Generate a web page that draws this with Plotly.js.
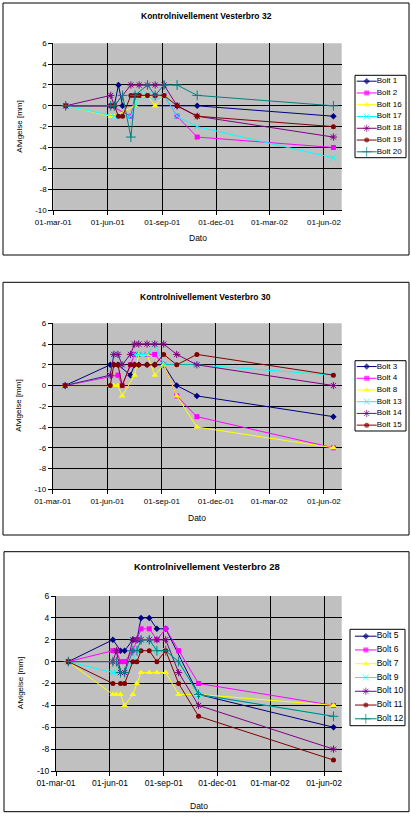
<!DOCTYPE html>
<html><head><meta charset="utf-8">
<script src="https://cdn.plot.ly/plotly-3.0.1.min.js"></script>
<style>html,body{margin:0;padding:0;background:#fff;}#c{width:411px;height:822px;}</style>
</head><body><div id="c"></div>
<script>
// ---- data ----
const dates = ['2001-03-22','2001-06-06','2001-06-12','2001-06-19','2001-06-26','2001-07-10','2001-07-17','2001-07-24','2001-08-07','2001-08-20','2001-09-04','2001-09-26','2001-10-30','2002-06-17'];
const tickDates = ['2001-03-01','2001-06-01','2001-09-01','2001-12-01','2002-03-01','2002-06-01'];
const tickLabels = ['01-mar-01','01-jun-01','01-sep-01','01-dec-01','01-mar-02','01-jun-02'];
const yTicks = [-10,-8,-6,-4,-2,0,2,4,6];
const yTickLabels = ['-10','-8','-6','-4','-2','0','2','4','6'];

const title32 = 'Kontrolnivellement Vesterbro 32';
const names32 = ['Bolt 1','Bolt 2','Bolt 16','Bolt 17','Bolt 18','Bolt 19','Bolt 20'];
const bolt1  = [0,0,0,2,0,null,null,null,null,null,null,0,0,-1];
const bolt2  = [0,0,null,null,null,-1,1,1,1,1,1,-1,-3,-4];
const bolt16 = [0,-1,-1,null,null,null,0,1,1,0,1,null,null,null];
const bolt17 = [0,null,-1,null,null,-1,0,1,1,1,1,-1,-2,-5];
const bolt18 = [0,1,0,null,null,2,null,2,2,2,2,0,-1,-3];
const bolt19 = [0,0,0,-1,-1,1,1,1,1,1,1,0,-1,-2];
const bolt20 = [0,0,0,null,1,-3,1,null,2,1,2,2,1,0];

const title30 = 'Kontrolnivellement Vesterbro 30';
const names30 = ['Bolt 3','Bolt 4','Bolt 8','Bolt 13','Bolt 14','Bolt 15'];
const bolt3  = [0,2,2,2,null,1,2,2,2,2,2,0,-1,-3];
const bolt4  = [0,null,null,1,0,2,3,3,3,3,2,-1,-3,-6];
const bolt8  = [0,0,0,0,-1,null,1,3,3,1,2,-1,-4,-6];
const bolt13 = [0,1,3,3,2,3,3,3,3,4,2,null,2,1];
const bolt14 = [0,1,3,3,2,3,4,4,4,4,4,3,2,0];
const bolt15 = [0,0,2,2,0,2,2,2,2,2,3,2,3,1];

const title28 = 'Kontrolnivellement Vesterbro 28';
const names28 = ['Bolt 5','Bolt 6','Bolt 7','Bolt 9','Bolt 10','Bolt 11','Bolt 12'];
const bolt5  = [0,2,null,1,1,2,2,4,4,3,3,null,-3,-6];
const bolt6  = [0,1,1,0,0,1,2,3,3,2,3,1,-2,-4];
const bolt7  = [0,-3,-3,-3,-4,-3,-2,-1,-1,-1,-1,-3,-3,-4];
const bolt9  = [0,-1,-1,-1,-1,0,1,2,2,1,1,0,-3,-5];
const bolt10 = [0,0,1,-1,-1,2,2,2,2,2,2,-1,-4,-8];
const bolt11 = [0,-2,null,-2,-2,0,0,1,1,0,1,-2,-5,-9];
const bolt12 = [0,0,0,-1,-1,1,1,2,2,1,1,0,-3,-5];

// ---- styles (Excel default series order) ----
const styles = [
  {color:'#000080', symbol:'diamond', size:5, thin:false},
  {color:'#FF00FF', symbol:'square', size:5, thin:false},
  {color:'#FFFF00', symbol:'triangle-up', size:6, thin:false},
  {color:'#00FFFF', symbol:'x-thin-open', size:6, thin:true},
  {color:'#800080', symbol:'asterisk-open', size:6, thin:true},
  {color:'#800000', symbol:'circle', size:5, thin:false},
  {color:'#008080', symbol:'cross-thin-open', size:7, thin:true}
];

const W = 411, H = 822;
const fx = p => p / W, fy = p => 1 - p / H;
const FONT = 'Arial, "Liberation Sans", sans-serif';

const charts = [
  {title:title32, names:names32, series:[bolt1,bolt2,bolt16,bolt17,bolt18,bolt19,bolt20],
   plot:[53.3,43.3,341.7,210], box:[3,3,409,255], leg:[355,75.3,406,157.7], sample:[1.7,21.7],
   titlePos:[206,16], titleSize:8.5, yt:[20,126.7], xt:[197.5,238], legFont:8, tick:8},
  {title:title30, names:names30, series:[bolt3,bolt4,bolt8,bolt13,bolt14,bolt15],
   plot:[52.7,323.3,341.7,489.3], box:[3,282.3,409,535], leg:[355,360.7,406,431], sample:[1.7,21.7],
   titlePos:[205.5,296.7], titleSize:8.5, yt:[18.5,406.3], xt:[197,518.3], legFont:8, tick:8},
  {title:title28, names:names28, series:[bolt5,bolt6,bolt7,bolt9,bolt10,bolt11,bolt12],
   plot:[56,596,341.7,771], box:[4,551.7,409,811.7], leg:[350,629.3,405,725.7], sample:[5,26.7],
   titlePos:[206.7,566.7], titleSize:9.5, yt:[20.7,683.5], xt:[198.5,805.7], legFont:8.5, tick:8.5}
];

const traces = [], shapes = [], annotations = [];
const layout = {
  width:W, height:H, margin:{l:0,r:0,t:0,b:0}, paper_bgcolor:'#ffffff', plot_bgcolor:'rgba(0,0,0,0)',
  showlegend:false, font:{family:FONT, color:'#000', size:8}
};

charts.forEach((c, k) => {
  const ax = k === 0 ? '' : String(k + 1);
  const lax = String(k + 4);
  const [px0, py0, px1, py1] = c.plot;
  layout['xaxis' + ax] = {
    domain:[fx(px0), fx(px1)], anchor:'y' + ax, type:'date',
    range:['2001-03-01','2002-07-01'], tickvals:tickDates, ticktext:tickLabels,
    showgrid:true, gridcolor:'#000', gridwidth:1, zeroline:false,
    showline:true, linecolor:'#000', linewidth:1, ticks:'outside', ticklen:4, tickcolor:'#000',
    tickfont:{size:c.tick, family:FONT, color:'#000'}, fixedrange:true
  };
  layout['yaxis' + ax] = {
    domain:[fy(py1), fy(py0)], anchor:'x' + ax, range:[-10,6],
    tickvals:yTicks, ticktext:yTickLabels,
    showgrid:true, gridcolor:'#000', gridwidth:1, zeroline:false,
    showline:true, linecolor:'#000', linewidth:1, ticks:'outside', ticklen:4, tickcolor:'#000',
    tickfont:{size:c.tick, family:FONT, color:'#000'}, fixedrange:true
  };
  const [lx0, ly0, lx1, ly1] = c.leg;
  const n = c.names.length;
  layout['xaxis' + lax] = {domain:[fx(lx0), fx(lx1)], anchor:'y' + lax, range:[0, lx1 - lx0],
    visible:false, fixedrange:true};
  layout['yaxis' + lax] = {domain:[fy(ly1), fy(ly0)], anchor:'x' + lax, range:[n, 0],
    visible:false, fixedrange:true};

  // plot area background
  shapes.push({type:'rect', xref:'x' + ax + ' domain', yref:'y' + ax + ' domain', x0:0, x1:1, y0:0, y1:1,
    fillcolor:'#c0c0c0', line:{width:0}, layer:'below'});
  // chart border
  shapes.push({type:'rect', xref:'paper', yref:'paper', x0:fx(c.box[0]), x1:fx(c.box[2]), y0:fy(c.box[3]), y1:fy(c.box[1]),
    line:{color:'#000', width:1}, fillcolor:'rgba(0,0,0,0)', layer:'below'});
  // legend border
  shapes.push({type:'rect', xref:'paper', yref:'paper', x0:fx(lx0), x1:fx(lx1), y0:fy(ly1), y1:fy(ly0),
    line:{color:'#000', width:1}, fillcolor:'#fff', layer:'below'});

  annotations.push({xref:'paper', yref:'paper', x:fx(c.titlePos[0]), y:fy(c.titlePos[1]), text:'<b>' + c.title + '</b>',
    showarrow:false, xanchor:'center', yanchor:'middle', font:{size:c.titleSize, family:FONT, color:'#000'}});
  annotations.push({xref:'paper', yref:'paper', x:fx(c.yt[0]), y:fy(c.yt[1]), text:'Afvigelse [mm]', textangle:-90,
    showarrow:false, xanchor:'center', yanchor:'middle', font:{size:8, family:FONT, color:'#000'}});
  annotations.push({xref:'paper', yref:'paper', x:fx(c.xt[0]), y:fy(c.xt[1]), text:'Dato',
    showarrow:false, xanchor:'center', yanchor:'middle', font:{size:8.5, family:FONT, color:'#000'}});

  c.series.forEach((s, j) => {
    const st = styles[j];
    const marker = st.thin
      ? {symbol:st.symbol, size:st.size, color:st.color, line:{color:st.color, width:1}}
      : {symbol:st.symbol, size:st.size, color:st.color, line:{width:0}};
    traces.push({x:dates, y:s, xaxis:'x' + ax, yaxis:'y' + ax, mode:'lines+markers', connectgaps:true,
      name:c.names[j], line:{color:st.color, width:1}, marker:marker, cliponaxis:false, hoverinfo:'skip'});
    const sx0 = c.sample[0], sx1 = c.sample[1];
    const lm = Object.assign({}, marker, {size:[0, st.size, 0]});
    traces.push({x:[sx0, (sx0 + sx1) / 2, sx1], y:[j + 0.5, j + 0.5, j + 0.5], xaxis:'x' + lax, yaxis:'y' + lax,
      mode:'lines+markers+text', text:['', '', c.names[j]], textposition:'middle right',
      textfont:{size:c.legFont, family:FONT, color:'#000'}, line:{color:st.color, width:1}, marker:lm,
      cliponaxis:false, hoverinfo:'skip'});
  });
});
layout.shapes = shapes;
layout.annotations = annotations;
Plotly.newPlot('c', traces, layout, {displayModeBar:false, staticPlot:true});
</script></body></html>
